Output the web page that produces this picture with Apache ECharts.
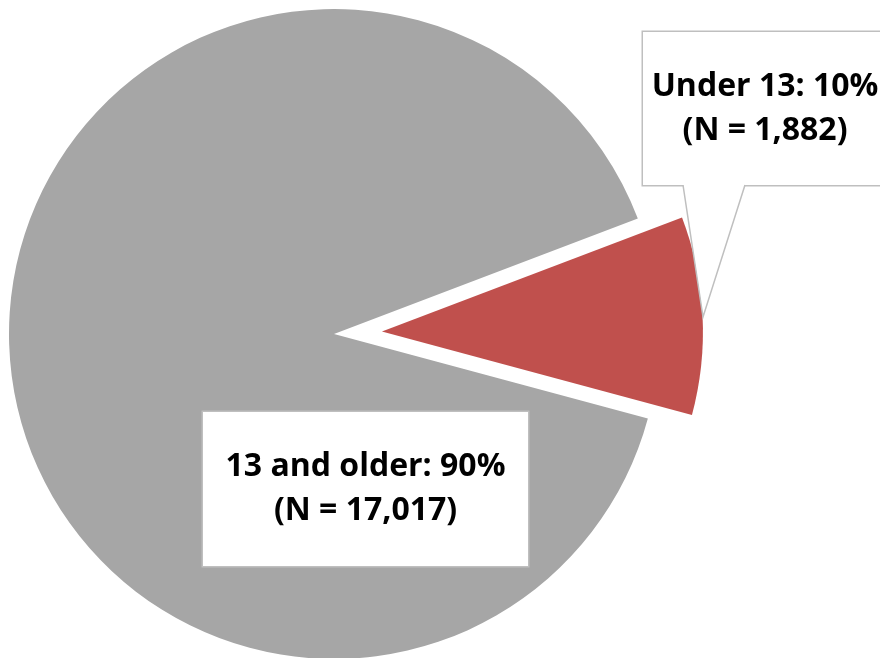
<!DOCTYPE html>
<html>
<head>
<meta charset="utf-8">
<script src="https://cdn.jsdelivr.net/npm/echarts@6/dist/echarts.min.js"></script>
<style>
  html, body { margin: 0; padding: 0; background: #fff; }
  #chart { width: 880px; height: 658px; }
</style>
</head>
<body>
<div id="chart"></div>
<script>
const categories = ['Under 13', '13 and older']
const counts = [1882, 17017]
const percents = [10, 90]
const colors = ['#c0504d', '#a6a6a6']

// label boxes (callout for the small slice, plain box for the big one)
const boxes = [
  { cx: 765, cy: 108.5, w: 244, h: 153 },
  { cx: 365.5, cy: 489, w: 325, h: 154 }
]

const center = [334, 334]
const startAngle = 20.8
const explode = 48

// pull the small slice out along its middle angle
let total = counts[0] + counts[1]
let midRad = (startAngle - 180 * counts[0] / total) * Math.PI / 180
let shifted = [center[0] + explode * Math.cos(midRad), center[1] - explode * Math.sin(midRad)]

function pieSeries(keep, c, r) {
  return {
    type: 'pie',
    center: c,
    radius: r,
    startAngle: startAngle,
    clockwise: true,
    silent: true,
    avoidLabelOverlap: false,
    label: {
      show: true,
      position: 'inside',
      color: '#000',
      fontFamily: 'Open Sans',
      fontWeight: 'bold',
      fontSize: 32,
      lineHeight: 44,
      align: 'center',
      verticalAlign: 'middle',
      backgroundColor: '#fff',
      borderColor: '#bfbfbf',
      borderWidth: 1.5,
      formatter: (p) => `${p.name}: ${percents[p.dataIndex]}%\n(N = ${counts[p.dataIndex].toLocaleString('en-US')})`
    },
    labelLine: { show: false },
    labelLayout: (params) => {
      let b = boxes[params.dataIndex]
      return { x: b.cx, y: b.cy, align: 'center', verticalAlign: 'middle' }
    },
    data: categories.map((cat, i) => ({
      name: cat,
      value: counts[i],
      itemStyle: { color: i === keep ? colors[i] : 'transparent' },
      label: i === keep ? { width: boxes[i].w, height: boxes[i].h } : { show: false }
    }))
  }
}

let myChart = echarts.init(document.getElementById('chart'))

myChart.setOption({
  animation: false,
  series: [
    pieSeries(1, center, 325),
    pieSeries(0, shifted, 321)
  ],
  graphic: [
    {
      type: 'polygon',
      z: 100,
      shape: { points: [[683, 183], [703, 317], [745, 183]] },
      style: { fill: '#fff', stroke: null }
    },
    {
      type: 'polyline',
      z: 101,
      shape: { points: [[683, 185], [703, 317], [745, 185]] },
      style: { stroke: '#bfbfbf', lineWidth: 1.5, fill: null }
    }
  ]
})
</script>
</body>
</html>
